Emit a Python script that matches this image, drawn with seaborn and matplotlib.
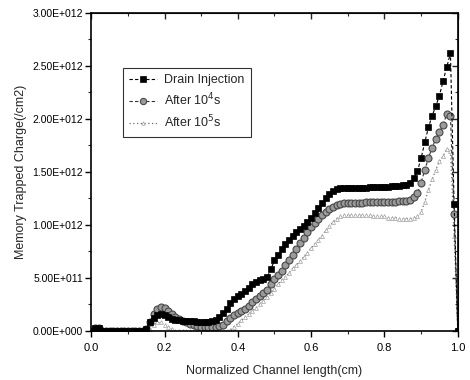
import matplotlib
matplotlib.use("Agg")
import matplotlib.pyplot as plt
import seaborn as sns
import pandas as pd
from matplotlib.ticker import MultipleLocator

# ---- data (charge in units of 1E+012 /cm2) ----
x_pos = [0.00, 0.01, 0.02, 0.03, 0.04, 0.05, 0.06, 0.07, 0.08, 0.09,
         0.10, 0.11, 0.12, 0.13, 0.14, 0.15, 0.16, 0.17, 0.18, 0.19,
         0.20, 0.21, 0.22, 0.23, 0.24, 0.25, 0.26, 0.27, 0.28, 0.29,
         0.30, 0.31, 0.32, 0.33, 0.34, 0.35, 0.36, 0.37, 0.38, 0.39,
         0.40, 0.41, 0.42, 0.43, 0.44, 0.45, 0.46, 0.47, 0.48, 0.49,
         0.50, 0.51, 0.52, 0.53, 0.54, 0.55, 0.56, 0.57, 0.58, 0.59,
         0.60, 0.61, 0.62, 0.63, 0.64, 0.65, 0.66, 0.67, 0.68, 0.69,
         0.70, 0.71, 0.72, 0.73, 0.74, 0.75, 0.76, 0.77, 0.78, 0.79,
         0.80, 0.81, 0.82, 0.83, 0.84, 0.85, 0.86, 0.87, 0.88, 0.89,
         0.90, 0.91, 0.92, 0.93, 0.94, 0.95, 0.96, 0.97, 0.98, 0.99,
         1.00]

drain_injection = [0.00, 0.03, 0.03, 0.00, 0.00, 0.00, 0.00, 0.00, 0.00, 0.00,
                   0.00, 0.00, 0.00, 0.00, 0.00, 0.02, 0.08, 0.12, 0.15, 0.16,
                   0.15, 0.13, 0.11, 0.10, 0.10, 0.09, 0.09, 0.09, 0.09, 0.08,
                   0.08, 0.08, 0.08, 0.09, 0.10, 0.13, 0.17, 0.21, 0.26, 0.30,
                   0.33, 0.35, 0.38, 0.41, 0.44, 0.46, 0.48, 0.49, 0.51, 0.58,
                   0.67, 0.72, 0.77, 0.82, 0.86, 0.90, 0.93, 0.96, 0.99, 1.03,
                   1.07, 1.11, 1.16, 1.21, 1.25, 1.29, 1.32, 1.34, 1.35, 1.35,
                   1.35, 1.35, 1.35, 1.35, 1.35, 1.35, 1.36, 1.36, 1.36, 1.36,
                   1.36, 1.36, 1.37, 1.37, 1.37, 1.38, 1.38, 1.40, 1.44, 1.51,
                   1.63, 1.78, 1.92, 2.03, 2.12, 2.22, 2.36, 2.49, 2.62, 1.20,
                   0.00]

after_1e4 = [0.00, 0.03, 0.03, 0.00, 0.00, 0.00, 0.00, 0.00, 0.00, 0.00,
             0.00, 0.00, 0.00, 0.00, 0.00, 0.02, 0.08, 0.16, 0.21, 0.23,
             0.22, 0.19, 0.16, 0.13, 0.11, 0.09, 0.08, 0.07, 0.06, 0.05,
             0.04, 0.04, 0.04, 0.04, 0.04, 0.05, 0.06, 0.09, 0.12, 0.15,
             0.17, 0.19, 0.21, 0.24, 0.27, 0.30, 0.33, 0.36, 0.39, 0.44,
             0.49, 0.53, 0.57, 0.62, 0.67, 0.72, 0.77, 0.83, 0.88, 0.93,
             0.98, 1.02, 1.06, 1.09, 1.12, 1.15, 1.17, 1.19, 1.20, 1.21,
             1.21, 1.21, 1.21, 1.21, 1.21, 1.22, 1.22, 1.22, 1.22, 1.22,
             1.22, 1.22, 1.22, 1.22, 1.23, 1.23, 1.23, 1.24, 1.26, 1.30,
             1.40, 1.52, 1.63, 1.73, 1.81, 1.88, 1.94, 2.05, 2.03, 1.10,
             0.00]

after_1e5 = [0.00, 0.02, 0.02, 0.00, 0.00, 0.00, 0.00, 0.00, 0.00, 0.00,
             0.00, 0.00, 0.00, 0.00, 0.00, 0.00, 0.02, 0.06, 0.08, 0.08,
             0.06, 0.04, 0.02, 0.00, 0.00, 0.00, 0.00, 0.00, 0.00, 0.00,
             0.00, 0.00, 0.00, 0.00, 0.00, 0.00, 0.00, 0.00, 0.01, 0.04,
             0.07, 0.10, 0.13, 0.16, 0.19, 0.22, 0.25, 0.28, 0.32, 0.36,
             0.40, 0.44, 0.48, 0.51, 0.55, 0.59, 0.62, 0.66, 0.70, 0.74,
             0.78, 0.82, 0.86, 0.90, 0.95, 0.99, 1.03, 1.06, 1.08, 1.09,
             1.09, 1.09, 1.09, 1.09, 1.09, 1.09, 1.09, 1.08, 1.08, 1.08,
             1.08, 1.07, 1.07, 1.07, 1.06, 1.06, 1.06, 1.06, 1.07, 1.08,
             1.12, 1.22, 1.33, 1.43, 1.52, 1.60, 1.65, 1.72, 1.70, 0.90,
             0.00]

series_names = ["Drain Injection", "After 10$^4$s", "After 10$^5$s"]
y_ticks = [0.0, 0.5, 1.0, 1.5, 2.0, 2.5, 3.0]
y_tick_labels = ["0.00E+000", "5.00E+011", "1.00E+012", "1.50E+012",
                 "2.00E+012", "2.50E+012", "3.00E+012"]
x_ticks = [0.0, 0.2, 0.4, 0.6, 0.8, 1.0]
x_tick_labels = ["0.0", "0.2", "0.4", "0.6", "0.8", "1.0"]

# ---- styling ----
sns.set_style("ticks")
plt.rcParams['font.family'] = ['Liberation Sans', 'DejaVu Sans']

fig = plt.figure(figsize=(4.7, 3.8), dpi=100)
ax = fig.add_axes([0.194, 0.129, 0.780, 0.837])

df = pd.DataFrame({"x": x_pos, "a": drain_injection, "b": after_1e4, "c": after_1e5})

sns.lineplot(data=df, x="x", y="c", ax=ax, sort=False, estimator=None,
             color="#6e6e6e", linestyle=(0, (1, 2)), linewidth=0.9,
             marker="^", markersize=2.8, markerfacecolor="white",
             markeredgecolor="#a0a0a0", markeredgewidth=0.5,
             label=series_names[2])
sns.lineplot(data=df, x="x", y="b", ax=ax, sort=False, estimator=None,
             color="#333333", linestyle=(0, (3, 2)), linewidth=0.8,
             marker="o", markersize=5, markerfacecolor="#9a9a9a",
             markeredgecolor="#484848", markeredgewidth=0.8,
             label=series_names[1])
sns.lineplot(data=df, x="x", y="a", ax=ax, sort=False, estimator=None,
             color="black", linestyle=(0, (3, 2)), linewidth=0.8,
             marker="s", markersize=4.6, markerfacecolor="black",
             markeredgecolor="black", markeredgewidth=0.5,
             label=series_names[0])

ax.set_xlim(0, 1.0)
ax.set_ylim(0, 3.0)
ax.set_xticks(x_ticks)
ax.set_xticklabels(x_tick_labels, fontsize=8)
ax.set_yticks(y_ticks)
ax.set_yticklabels(y_tick_labels, fontsize=7.5)
ax.xaxis.set_minor_locator(MultipleLocator(0.1))
ax.yaxis.set_minor_locator(MultipleLocator(0.25))

ax.set_xlabel("Normalized Channel length(cm)", fontsize=9, labelpad=8)
ax.set_ylabel("Memory Trapped Charge(/cm2)", fontsize=9, labelpad=4)

for s in ax.spines.values():
    s.set_visible(True)
    s.set_linewidth(1.2)
    s.set_color("black")

ax.tick_params(which="major", direction="out", length=4, width=1.0,
               top=False, right=False, colors="black")
ax.tick_params(axis="x", which="major", pad=5)
ax.tick_params(axis="y", which="major", pad=2)
ax.tick_params(which="minor", direction="out", length=2.5, width=0.8,
               top=False, right=False)
ax2 = ax.secondary_xaxis("top")
ax2.set_xticks(x_ticks)
ax2.set_xticklabels([])
ax2.xaxis.set_minor_locator(MultipleLocator(0.1))
ax2.tick_params(which="major", direction="in", length=4, width=1.0)
ax2.tick_params(which="minor", direction="in", length=2.5, width=0.8)
ax3 = ax.secondary_yaxis("right")
ax3.set_yticks(y_ticks)
ax3.set_yticklabels([])
ax3.yaxis.set_minor_locator(MultipleLocator(0.25))
ax3.tick_params(which="major", direction="in", length=4, width=1.0)
ax3.tick_params(which="minor", direction="in", length=2.5, width=0.8)

handles, labels = ax.get_legend_handles_labels()
order = [2, 1, 0]
leg = ax.legend([handles[i] for i in order], [labels[i] for i in order],
                loc="upper left", bbox_to_anchor=(0.087, 0.827),
                borderaxespad=0.0,
                fontsize=9, frameon=True, fancybox=False,
                handlelength=2.2, handletextpad=0.6, borderpad=0.5,
                labelspacing=0.45, markerscale=0.9)
leg.get_frame().set_edgecolor("black")
leg.get_frame().set_linewidth(0.8)

fig.savefig("out.png", dpi=100)
